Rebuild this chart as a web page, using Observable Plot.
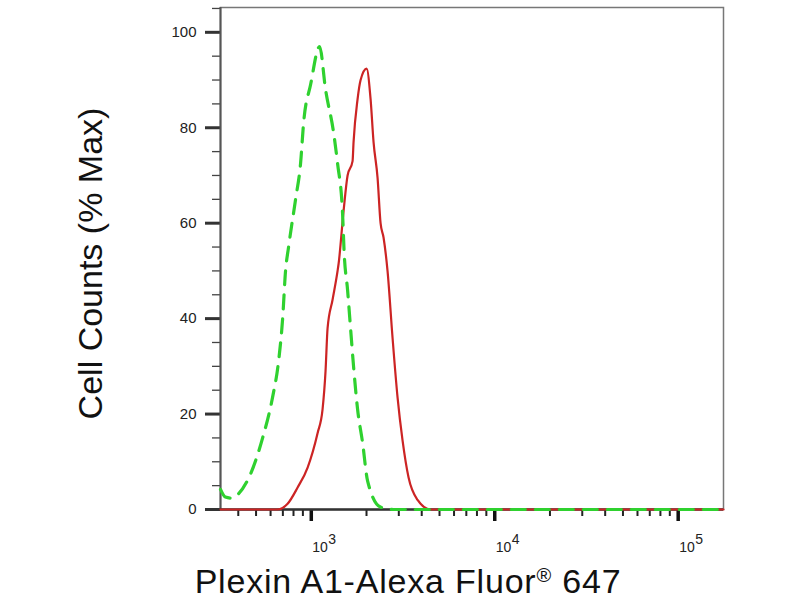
<!DOCTYPE html>
<html>
<head>
<meta charset="utf-8">
<script src="https://cdn.jsdelivr.net/npm/d3@7"></script>
<script src="https://cdn.jsdelivr.net/npm/@observablehq/plot@0.6"></script>
<style>
  body { margin: 0; background: white; }
</style>
</head>
<body>
<div id="chart"></div>
<script>
// isotype control (green, dashed)
const isoX = [320, 340, 363, 387, 467, 543, 615, 663, 698, 724, 752, 821, 874, 908, 991, 1110, 1196, 1323, 1391, 1481, 1510, 1577, 1637, 1700, 1788, 1904, 2027, 2386, 2880, 4467, 176600]
const isoY = [4.2, 2.6, 2.4, 2.8, 7.5, 15, 23.5, 31, 40, 50, 55, 65, 72.5, 81, 89, 97, 88, 79, 72.5, 62, 54, 46, 38, 30, 21, 14, 6, 0.5, 0, 0, 0]

// Plexin A1 stained (red, solid)
const abX = [320, 655, 743, 842, 955, 1082, 1152, 1196, 1227, 1307, 1391, 1409, 1500, 1577, 1679, 1700, 1788, 1857, 2002, 2105, 2185, 2298, 2386, 2477, 2604, 2773, 2953, 3144, 3391, 3797, 4467, 176600]
const abY = [0, 0, 1.2, 4.6, 8.8, 16, 21, 29, 38, 44, 50, 51.5, 62.6, 70, 73, 77, 86, 90, 92.4, 86, 77, 69.5, 60, 57, 50, 36, 23.5, 14.5, 6.7, 2, 0, 0]

const yMajor = [0, 20, 40, 60, 80, 100]
const yMinor = [5, 10, 15, 25, 30, 35, 45, 50, 55, 65, 70, 75, 85, 90, 95, 105]
const xMajor = [1000, 10000, 100000]
const xMinor = [400, 500, 600, 700, 800, 900, 2000, 3000, 4000, 5000, 6000, 7000, 8000, 9000,
                20000, 30000, 40000, 50000, 60000, 70000, 80000, 90000]

const iso = isoX.map((x, i) => ({x, y: isoY[i]}))
const ab = abX.map((x, i) => ({x, y: abY[i]}))

const chart = Plot.plot({
  width: 800,
  height: 600,
  marginLeft: 220,
  marginRight: 77,
  marginTop: 7,
  marginBottom: 91,
  style: {fontFamily: "'Liberation Sans', Arial, sans-serif", background: "white", color: "#222"},
  x: {type: "log", domain: [320, 176600], label: null},
  y: {domain: [0, 105.2], label: null},
  marks: [
    Plot.frame({stroke: "#777", strokeWidth: 1.5}),
    Plot.axisY({ticks: yMinor, tickSize: 8, tickFormat: () => "", strokeWidth: 1.3, stroke: "#444", label: null}),
    Plot.axisY({ticks: yMajor, tickSize: 15, tickPadding: 9, strokeWidth: 3, stroke: "#333", fontSize: 15, label: null}),
    Plot.axisX({ticks: xMinor, tickSize: 7, tickFormat: () => "", strokeWidth: 2, stroke: "#222", label: null}),
    Plot.axisX({ticks: xMajor, tickSize: 12, tickFormat: () => "", strokeWidth: 3.5, stroke: "#111", label: null}),
    Plot.ruleX([320], {stroke: "#555", strokeWidth: 2}),
    Plot.ruleY([0], {stroke: "#333", strokeWidth: 2.5}),
    Plot.line(ab, {x: "x", y: "y", stroke: "#cc2424", strokeWidth: 2.2, curve: "monotone-x"}),
    Plot.line(iso, {x: "x", y: "y", stroke: "#2fd12f", strokeWidth: 3.2, strokeDasharray: "14,10", curve: "monotone-x"}),
    // tick labels 10^n
    Plot.text(xMajor, {x: d => d, frameAnchor: "bottom", lineAnchor: "middle", dy: 38, dx: 1, text: () => "10", textAnchor: "start", fontSize: 14, fill: "#222"}),
    Plot.text(xMajor, {x: d => d, frameAnchor: "bottom", lineAnchor: "middle", dy: 30, dx: 17, text: d => String(Math.round(Math.log10(d))), textAnchor: "start", fontSize: 14, fill: "#222"}),
    // axis titles
    Plot.text(["Cell Counts (% Max)"], {frameAnchor: "left", rotate: -90, textAnchor: "middle", dx: -129, dy: 5, fontSize: 34, fill: "#111"}),
    Plot.text(["Plexin A1-Alexa Fluor® 647"], {frameAnchor: "bottom", lineAnchor: "middle", textAnchor: "middle", dx: -64, dy: 73, fontSize: 34, fill: "#111"})
  ]
})

// registered mark as a small raised sign
d3.select(chart).selectAll("text")
  .filter(function() { return this.textContent.includes("®") })
  .each(function() {
    const t = d3.select(this).style("letter-spacing", "0.8px")
    t.text(null)
    t.append("tspan").text("Plexin A1-Alexa Fluor")
    t.append("tspan").attr("font-size", "20px").attr("dy", "-11").text("®")
    t.append("tspan").attr("dy", "11").text(" 647")
  })

d3.select('#chart').append(() => chart)
</script>
</body>
</html>
